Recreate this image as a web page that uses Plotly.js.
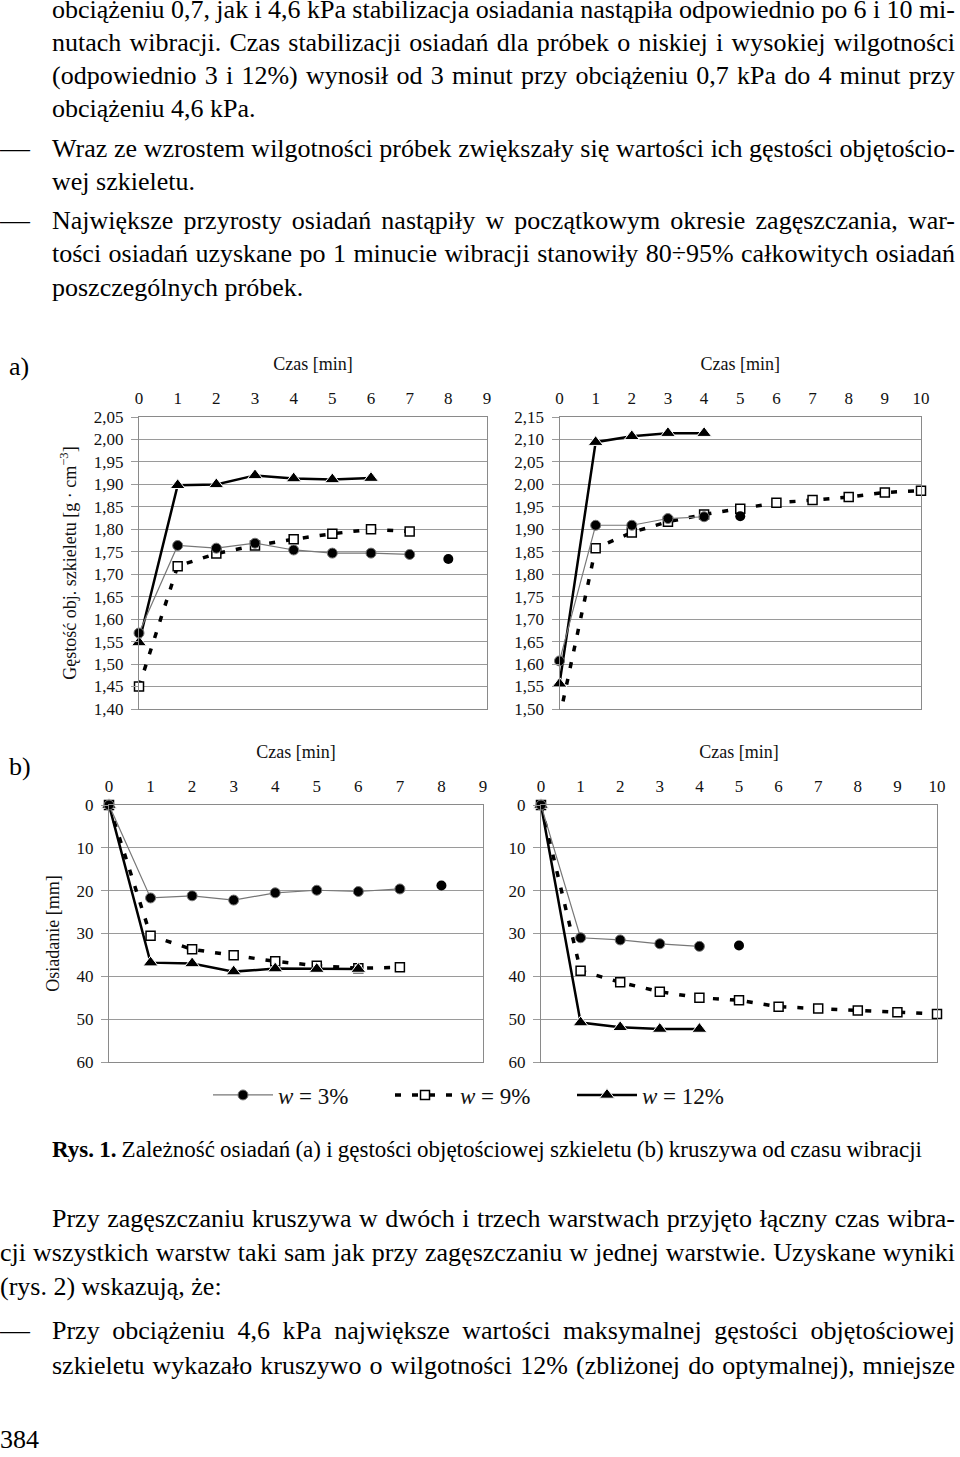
<!DOCTYPE html>
<html><head><meta charset="utf-8">
<script src="https://cdn.plot.ly/plotly-3.0.1.min.js"></script>
<style>
html,body{margin:0;padding:0;background:#fff;overflow:hidden;}
#page{position:relative;width:960px;height:1457px;overflow:hidden;background:#fff;}
#chart{position:absolute;left:0;top:0;width:960px;height:1457px;}
.ln{position:absolute;font-family:"Liberation Serif","Times New Roman",serif;font-size:26px;line-height:20px;height:20px;white-space:pre;color:#000;}
.ln > span{display:inline-block;line-height:20px;height:20px;}
.dash{display:inline-block;transform:scaleX(1.15);transform-origin:left center;}
</style></head><body><div id="page"><div id="chart"></div></div>
<script>
// ---------- DATA ----------
// a) left panel – bulk density of skeleton [g·cm-3]
const timeA1_w3 = [0,1,2,3,4,5,6,7,8];
const densA1_w3 = [1.569,1.764,1.758,1.769,1.754,1.747,1.747,1.744,1.734];
const timeA1_w9 = [0,1,2,3,4,5,6,7];
const densA1_w9 = [1.450,1.718,1.746,1.764,1.778,1.790,1.800,1.795];
const timeA1_w12 = [0,1,2,3,4,5,6];
const densA1_w12 = [1.548,1.898,1.900,1.920,1.913,1.911,1.914];
// a) right panel
const timeA2_w3 = [0,1,2,3,4,5];
const densA2_w3 = [1.607,1.909,1.909,1.924,1.928,1.929];
const timeA2_w9 = [0,1,2,3,4,5,6,7,8,9,10];
const densA2_w9 = [1.480,1.858,1.893,1.917,1.933,1.946,1.959,1.965,1.972,1.982,1.986];
const timeA2_w12 = [0,1,2,3,4];
const densA2_w12 = [1.556,2.094,2.107,2.114,2.114];
// b) left panel – settlement [mm]
const timeB1_w3 = [0,1,2,3,4,5,6,7,8];
const settB1_w3 = [0,21.7,21.2,22.2,20.5,19.9,20.2,19.6,18.8];
const timeB1_w9 = [0,1,2,3,4,5,6,7];
const settB1_w9 = [0,30.5,33.7,35.1,36.5,37.5,38.1,37.9];
const timeB1_w12 = [0,1,2,3,4,5,6];
const settB1_w12 = [0,36.8,37.0,38.9,38.2,38.3,38.3];
// b) right panel
const timeB2_w3 = [0,1,2,3,4,5];
const settB2_w3 = [0,31.0,31.5,32.4,33.0,32.8];
const timeB2_w9 = [0,1,2,3,4,5,6,7,8,9,10];
const settB2_w9 = [0,38.7,41.4,43.6,45.0,45.6,47.1,47.5,48.0,48.4,48.8];
const timeB2_w12 = [0,1,2,3,4];
const settB2_w12 = [0,50.8,51.9,52.3,52.3];

const seriesNames = ['<i>w</i> = 3%','<i>w</i> = 9%','<i>w</i> = 12%'];
const densRangeA1 = [1.40,2.05];
const densRangeA2 = [1.50,2.15];
const settRange = [60,0];
const xTitle = 'Czas [min]';
const yTitleA = 'Gęstość obj. szkieletu [g · cm<sup>−3</sup>]';
const yTitleB = 'Osiadanie [mm]';

// ---------- TEXT ----------
const textLines = [
 {t:'obciążeniu 0,7, jak i 4,6 kPa stabilizacja osiadania nastąpiła odpowiednio po 6 i 10 mi-', x:52, y:13, w:903},
 {t:'nutach wibracji. Czas stabilizacji osiadań dla próbek o niskiej i wysokiej wilgotności', x:52, y:46, w:903},
 {t:'(odpowiednio 3 i 12%) wynosił od 3 minut przy obciążeniu 0,7 kPa do 4 minut przy', x:52, y:79, w:903},
 {t:'obciążeniu 4,6 kPa.', x:52, y:112},
 {t:'Wraz ze wzrostem wilgotności próbek zwiększały się wartości ich gęstości objętościo-', x:52, y:152, w:903, dash:true},
 {t:'wej szkieletu.', x:52, y:185},
 {t:'Największe przyrosty osiadań nastąpiły w początkowym okresie zagęszczania, war-', x:52, y:224, w:903, dash:true},
 {t:'tości osiadań uzyskane po 1 minucie wibracji stanowiły 80÷95% całkowitych osiadań', x:52, y:257, w:903},
 {t:'poszczególnych próbek.', x:52, y:291},
 {t:'a)', x:9, y:370},
 {t:'b)', x:9, y:770},
 {t:'Przy zagęszczaniu kruszywa w dwóch i trzech warstwach przyjęto łączny czas wibra-', x:52, y:1222, w:903},
 {t:'cji wszystkich warstw taki sam jak przy zagęszczaniu w jednej warstwie. Uzyskane wyniki', x:0, y:1256, w:955},
 {t:'(rys. 2) wskazują, że:', x:0, y:1290},
 {t:'Przy obciążeniu 4,6 kPa największe wartości maksymalnej gęstości objętościowej', x:52, y:1334, w:903, dash:true},
 {t:'szkieletu wykazało kruszywo o wilgotności 12% (zbliżonej do optymalnej), mniejsze', x:52, y:1369, w:903},
 {t:'384', x:0, y:1443}
];
const captionBold = 'Rys. 1.';
const captionText = ' Zależność osiadań (a) i gęstości objętościowej szkieletu (b) kruszywa od czasu wibracji';

// ---------- BUILD ----------
const FONT = 'Liberation Serif, Times New Roman, serif';
const W = 960, H = 1457;
const px = v => v / W;
const py = v => 1 - v / H;

const styles = [
  {line:{color:'#777', width:1.2}, marker:{symbol:'circle', size:10, color:'#000', opacity:1}},
  {line:{color:'#000', width:3.5, dash:'6px,11px'}, marker:{symbol:'square', size:9, color:'#fff', opacity:1, line:{color:'#000', width:1.5}}},
  {line:{color:'#000', width:2.5}, marker:{symbol:'triangle-up', size:13, color:'#000', opacity:1}}
];

const traces = [];
function addPanel(xa, ya, sets, yMin, legend) {
  // draw order: w9, w12, w3 (circles on top)
  [1,2,0].forEach(i => {
    const [t, v] = sets[i];
    const st = styles[i];
    const isolateLast = (i === 0);
    const tl = isolateLast ? t.slice(0, -1) : t;
    const vl = isolateLast ? v.slice(0, -1) : v;
    const sizes = vl.map(val => (yMin !== null && val < yMin) ? 0 : st.marker.size);
    traces.push({
      type:'scatter', mode:'lines+markers', x:tl, y:vl, xaxis:xa, yaxis:ya,
      name:seriesNames[i], showlegend:legend, legendrank:i+1,
      line:st.line, marker:Object.assign({}, st.marker, {size:sizes}),
      cliponaxis:false, hoverinfo:'skip'
    });
    if (isolateLast) {
      traces.push({
        type:'scatter', mode:'markers', x:t.slice(-1), y:v.slice(-1), xaxis:xa, yaxis:ya,
        showlegend:false, marker:st.marker, cliponaxis:false, hoverinfo:'skip'
      });
    }
  });
}
addPanel('x','y',[[timeA1_w3,densA1_w3],[timeA1_w9,densA1_w9],[timeA1_w12,densA1_w12]], densRangeA1[0], true);
addPanel('x2','y2',[[timeA2_w3,densA2_w3],[timeA2_w9,densA2_w9],[timeA2_w12,densA2_w12]], densRangeA2[0], false);
addPanel('x3','y3',[[timeB1_w3,settB1_w3],[timeB1_w9,settB1_w9],[timeB1_w12,settB1_w12]], null, false);
addPanel('x4','y4',[[timeB2_w3,settB2_w3],[timeB2_w9,settB2_w9],[timeB2_w12,settB2_w12]], null, false);

const tickFont = {family:FONT, size:17, color:'#111'};
const titleFont = {family:FONT, size:18, color:'#111'};
function xAx(dom, anchor, maxT) {
  return {domain:dom, anchor:anchor, side:'top', range:[0,maxT], tick0:0, dtick:1,
    showgrid:false, zeroline:false, showline:true, mirror:true, linecolor:'#8a8a8a', linewidth:1,
    ticks:'', ticklabelstandoff:5, tickfont:tickFont, fixedrange:true, automargin:false,
    title:{text:xTitle, font:titleFont, standoff:13}};
}
function yAx(dom, anchor, range, dtick, fmt, title) {
  const a = {domain:dom, anchor:anchor, range:range, tick0:0, dtick:dtick, tickformat:fmt,
    showgrid:true, gridcolor:'#9a9a9a', gridwidth:1, zeroline:false,
    showline:true, mirror:true, linecolor:'#8a8a8a', linewidth:1, automargin:false,
    ticks:'outside', ticklen:7, tickcolor:'#9a9a9a', ticklabelstandoff:4, tickfont:tickFont, fixedrange:true};
  if (title) a.title = {text:title, font:titleFont, standoff:12};
  return a;
}
const yDomTop = [py(709), py(417)];
const yDomBot = [py(1062), py(805)];
const layout = {
  width:W, height:H, margin:{l:0,r:0,t:0,b:0,autoexpand:false}, paper_bgcolor:'rgba(0,0,0,0)', plot_bgcolor:'rgba(0,0,0,0)',
  separators:', ', font:{family:FONT, color:'#111'},
  xaxis: xAx([px(139), px(487)], 'y', 9),
  yaxis: yAx(yDomTop, 'x', densRangeA1, 0.05, '.2f', yTitleA),
  xaxis2: xAx([px(559.5), px(921)], 'y2', 10),
  yaxis2: yAx(yDomTop, 'x2', densRangeA2, 0.05, '.2f', null),
  xaxis3: xAx([px(109), px(483)], 'y3', 9),
  yaxis3: yAx(yDomBot, 'x3', settRange, 10, 'd', yTitleB),
  xaxis4: xAx([px(541), px(937)], 'y4', 10),
  yaxis4: yAx(yDomBot, 'x4', settRange, 10, 'd', null),
  showlegend:true,
  legend:{orientation:'h', x:px(208), xanchor:'left', y:py(1095), yanchor:'middle',
    font:{family:FONT, size:23, color:'#111'}, itemwidth:60, entrywidth:107, entrywidthmode:'pixels',
    bgcolor:'rgba(0,0,0,0)', traceorder:'normal', itemclick:false, itemdoubleclick:false}
};
Plotly.newPlot('chart', traces, layout, {displayModeBar:false, staticPlot:true});

// text overlay
const page = document.getElementById('page');
const topOf = cy => Math.max(0, cy - 13) + 'px';
textLines.forEach(L => {
  if (L.dash) {
    const d = document.createElement('div');
    d.className = 'ln'; d.style.left = '0px'; d.style.top = topOf(L.y);
    d.innerHTML = '<span class="dash">—</span>';
    page.appendChild(d);
  }
  const el = document.createElement('div');
  el.className = 'ln'; el.style.left = L.x + 'px'; el.style.top = topOf(L.y);
  const sp = document.createElement('span'); sp.textContent = L.t; el.appendChild(sp);
  page.appendChild(el);
  if (L.w) {
    const nat = sp.getBoundingClientRect().width;
    const n = (L.t.match(/ /g) || []).length;
    if (n > 0) sp.style.wordSpacing = ((L.w - nat) / n) + 'px';
  }
});
// caption
const cap = document.createElement('div');
cap.className = 'ln'; cap.style.left = '52px'; cap.style.top = topOf(1153); cap.style.fontSize = '23px';
const capSpan = document.createElement('span');
const b = document.createElement('b'); b.textContent = captionBold; capSpan.appendChild(b);
capSpan.appendChild(document.createTextNode(captionText));
cap.appendChild(capSpan); page.appendChild(cap);
const capNat = capSpan.getBoundingClientRect().width;
const capN = (captionBold + captionText).split(' ').length - 1;
capSpan.style.wordSpacing = ((870 - capNat) / capN) + 'px';
</script></body></html>
